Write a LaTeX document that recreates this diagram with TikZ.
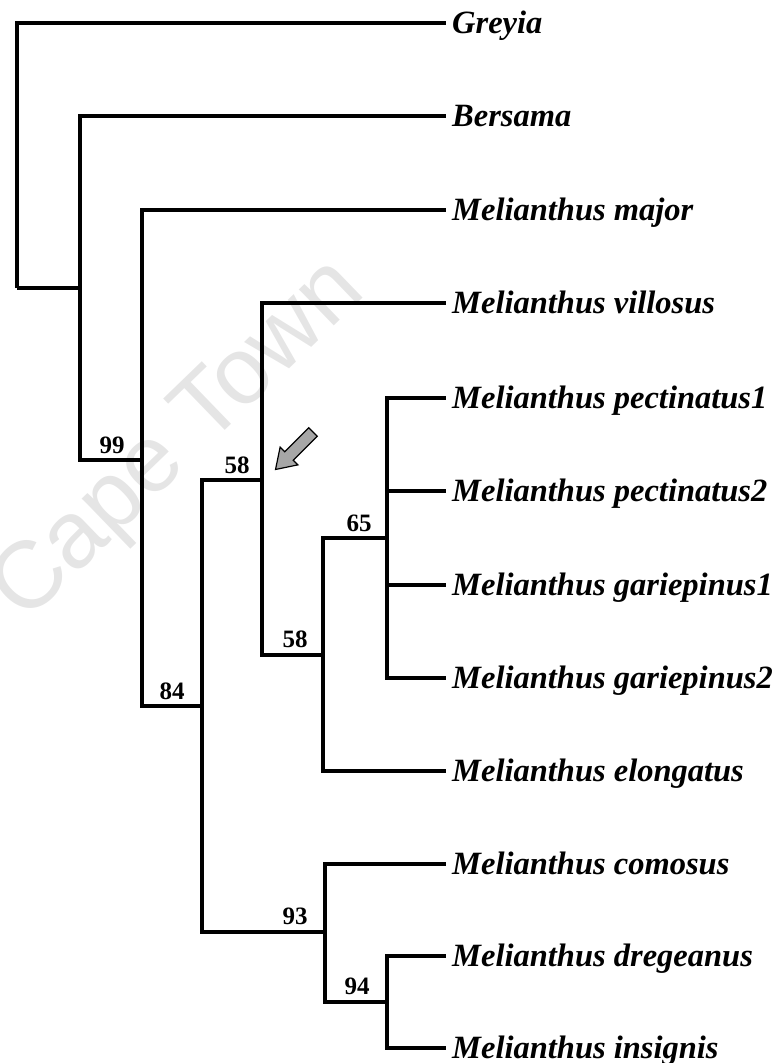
\documentclass[tikz,border=0pt]{standalone}
\usepackage{fontspec}
\setmainfont{Liberation Serif}
\newfontfamily\wmfont{Liberation Sans}
\begin{document}
\begin{tikzpicture}[x=1pt,y=-1pt,
  branch/.style={line width=3.4pt},
  taxon/.style={anchor=base west, inner sep=0pt, font=\fontsize{32.5}{32.5}\selectfont\bfseries\itshape},
  support/.style={anchor=base, inner sep=0pt, font=\fontsize{25}{25}\selectfont\bfseries},
  pointer/.style={draw=black, line width=1.2pt, fill=black!35}]
\useasboundingbox (0,0) rectangle (781,1063);
% watermark
\node[rotate=44, text=black!10, font=\wmfont\fontsize{95}{95}\selectfont] (wm) at (180,442) {Cape Town};
% tip coordinates
\coordinate (tGre) at (446,23);
\coordinate (tBer) at (446,116);
\coordinate (tMaj) at (446,210);
\coordinate (tVil) at (446,303);
\coordinate (tPe1) at (446,398);
\coordinate (tPe2) at (446,491);
\coordinate (tGa1) at (446,585);
\coordinate (tGa2) at (446,678);
\coordinate (tElo) at (446,771);
\coordinate (tCom) at (446,864);
\coordinate (tDre) at (446,956);
\coordinate (tIns) at (446,1048);
% internal nodes
\coordinate (root) at (17,288);
\coordinate (nA) at (80,288);
\coordinate (nB) at (142,460);
\coordinate (nC) at (202,706);
\coordinate (nD) at (262,480);
\coordinate (nE) at (323,655);
\coordinate (nF) at (387,538);
\coordinate (nG) at (325,932);
\coordinate (nH) at (387,1002);
% taxon labels
\node[taxon] (lGre) at (452,33) {Greyia};
\node[taxon] (lBer) at (452,126) {Bersama};
\node[taxon] (lMaj) at (452,220) {Melianthus major};
\node[taxon] (lVil) at (452,313) {Melianthus villosus};
\node[taxon] (lPe1) at (452,408) {Melianthus pectinatus1};
\node[taxon] (lPe2) at (452,501) {Melianthus pectinatus2};
\node[taxon] (lGa1) at (452,595) {Melianthus gariepinus1};
\node[taxon] (lGa2) at (452,688) {Melianthus gariepinus2};
\node[taxon] (lElo) at (452,781) {Melianthus elongatus};
\node[taxon] (lCom) at (452,874) {Melianthus comosus};
\node[taxon] (lDre) at (452,966) {Melianthus dregeanus};
\node[taxon] (lIns) at (452,1058) {Melianthus insignis};
% branches
\draw[branch] (root) |- (tGre);
\draw[branch] (root) |- (nA);
\draw[branch] (nA) |- (tBer);
\draw[branch] (nA) |- (nB);
\draw[branch] (nB) |- (tMaj);
\draw[branch] (nB) |- (nC);
\draw[branch] (nC) |- (nD);
\draw[branch] (nC) |- (nG);
\draw[branch] (nD) |- (tVil);
\draw[branch] (nD) |- (nE);
\draw[branch] (nE) |- (nF);
\draw[branch] (nE) |- (tElo);
\draw[branch] (nF) |- (tPe1);
\draw[branch] (nF) |- (tPe2);
\draw[branch] (nF) |- (tGa1);
\draw[branch] (nF) |- (tGa2);
\draw[branch] (nG) |- (tCom);
\draw[branch] (nG) |- (nH);
\draw[branch] (nH) |- (tDre);
\draw[branch] (nH) |- (tIns);
% support values
\node[support] (s99) at (112,453) {99};
\node[support] (s84) at (172,699) {84};
\node[support] (s58a) at (237,473) {58};
\node[support] (s58b) at (295,647) {58};
\node[support] (s65) at (359,531) {65};
\node[support] (s93) at (295,924) {93};
\node[support] (s94) at (357,994) {94};
% pointer arrow
\begin{scope}[shift={(313,432)}, rotate=225]
\draw[pointer] (0,-6) -- (34,-6) -- (34,-12.5) -- (53,0) -- (34,12.5) -- (34,6) -- (0,6) -- cycle;
\end{scope}
\end{tikzpicture}
\end{document}
